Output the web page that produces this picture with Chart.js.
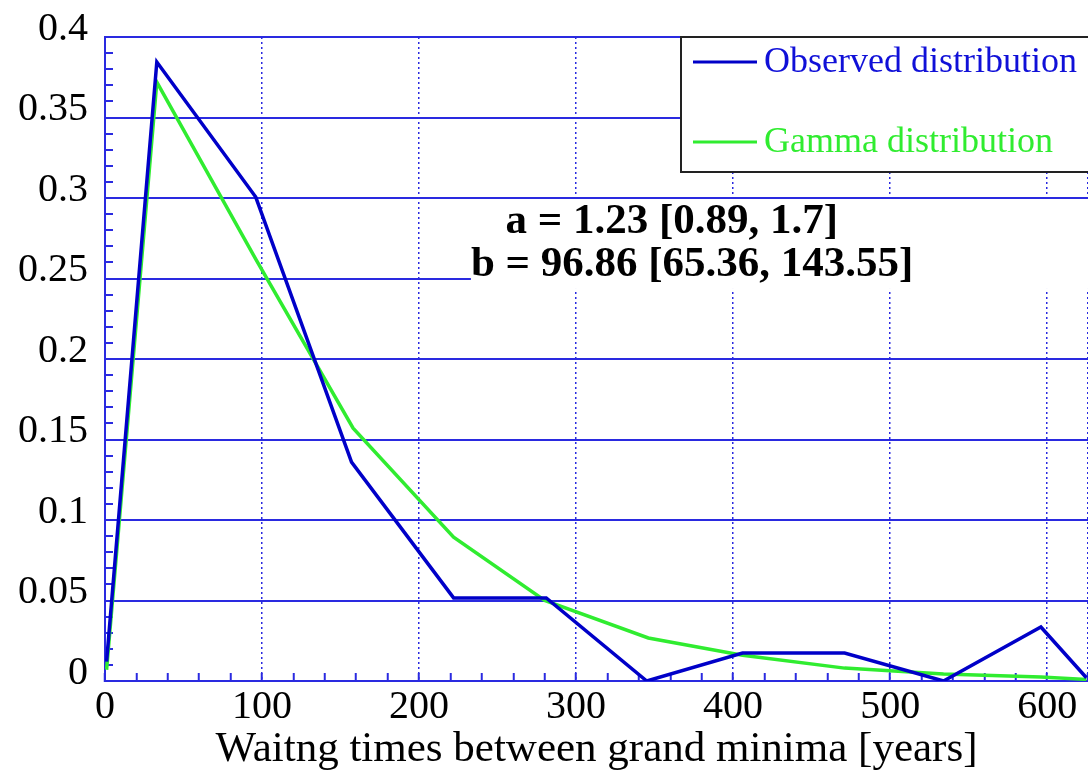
<!DOCTYPE html>
<html>
<head>
<meta charset="utf-8">
<script src="https://cdn.jsdelivr.net/npm/chart.js@4.4.0/dist/chart.umd.min.js"></script>
<style>
html, body { margin: 0; padding: 0; background: #fff; }
#chart { display: block; }
</style>
</head>
<body>
<canvas id="chart" width="1088" height="776"></canvas>
<script>
// values
const seriesNames = ['Observed distribution', 'Gamma distribution'];
const observedX = [1, 33, 96, 157, 222, 281, 345, 406, 471, 534, 596, 625];
const observedY = [0.012, 0.3845, 0.3006, 0.136, 0.0516, 0.0516, 0, 0.0174, 0.0174, 0, 0.0335, 0.002];
const gammaX = [1, 33, 96, 158, 222, 280, 346, 406, 471, 534, 596, 625];
const gammaY = [0.007, 0.372, 0.262, 0.157, 0.0894, 0.050, 0.0267, 0.016, 0.008, 0.0043, 0.0025, 0.001];
const fitLines = ['a = 1.23 [0.89, 1.7]', 'b = 96.86 [65.36, 143.55]'];
const xTitle = 'Waitng times between grand minima [years]';

const X_MAX = 626;
const gridBlue = '#2a2ae0';
const obsBlue = '#0000c8';
const gammaGreen = '#30ec30';

Chart.defaults.font.family = "'Liberation Serif', 'Times New Roman', serif";
Chart.defaults.color = '#000';

function pts(xs, ys) {
    return xs.map((x, i) => ({ x: x, y: ys[i] }));
}

const isMajorY = v => Math.abs(v * 20 - Math.round(v * 20)) < 1e-6;
const isMajorX = v => v % 100 === 0;

// white box with the fit parameters
const fitBox = {
    id: 'fitBox',
    beforeDatasetsDraw(chart) {
        const { ctx, scales: { x, y } } = chart;
        const left = x.getPixelForValue(233);
        const top = y.getPixelForValue(0.2985);
        const bottom = y.getPixelForValue(0.2435);
        ctx.save();
        ctx.fillStyle = '#fff';
        ctx.fillRect(left, top, chart.width - left, bottom - top);
        ctx.fillStyle = '#000';
        ctx.font = "bold 43px 'Liberation Serif', serif";
        ctx.textBaseline = 'alphabetic';
        ctx.fillText(fitLines[0], x.getPixelForValue(255), y.getPixelForValue(0.2785));
        ctx.fillText(fitLines[1], x.getPixelForValue(233), y.getPixelForValue(0.2515));
        ctx.restore();
    }
};

// boxed legend in the upper right corner
const boxLegend = {
    id: 'boxLegend',
    afterDraw(chart) {
        const { ctx, chartArea } = chart;
        const left = 681, top = chartArea.top, bottom = 172;
        ctx.save();
        ctx.fillStyle = '#fff';
        ctx.fillRect(left, top, chart.width - left + 5, bottom - top);
        ctx.strokeStyle = '#222';
        ctx.lineWidth = 2;
        ctx.strokeRect(left, top, chart.width - left + 10, bottom - top);
        ctx.font = "36px 'Liberation Serif', serif";
        ctx.textBaseline = 'middle';
        chart.data.datasets.forEach((ds, i) => {
            const yy = 62 + i * 80;
            ctx.strokeStyle = ds.borderColor;
            ctx.lineWidth = 3;
            ctx.beginPath();
            ctx.moveTo(693, yy);
            ctx.lineTo(757, yy);
            ctx.stroke();
            ctx.fillStyle = ds.borderColor === obsBlue ? '#1010d8' : ds.borderColor;
            ctx.fillText(ds.label, 764, yy + 1);
        });
        ctx.restore();
    }
};

new Chart(document.getElementById('chart'), {
    type: 'scatter',
    data: {
        datasets: [{
            label: seriesNames[0],
            data: pts(observedX, observedY),
            showLine: true,
            borderColor: obsBlue,
            borderWidth: 3.5,
            pointRadius: 0,
            tension: 0
        }, {
            label: seriesNames[1],
            data: pts(gammaX, gammaY),
            showLine: true,
            borderColor: gammaGreen,
            borderWidth: 3.5,
            pointRadius: 0,
            tension: 0
        }]
    },
    options: {
        responsive: false,
        animation: false,
        devicePixelRatio: 1,
        layout: { padding: { top: 37, right: 0, left: 0, bottom: 0 } },
        plugins: {
            legend: { display: false },
            tooltip: { enabled: false }
        },
        scales: {
            x: {
                type: 'linear',
                min: 0,
                max: X_MAX,
                afterFit(scale) {
                    scale.height = 95;
                    scale.paddingLeft = 0;
                    scale.paddingRight = 0;
                },
                ticks: {
                    stepSize: 20,
                    padding: 10,
                    maxRotation: 0,
                    autoSkip: false,
                    font: { size: 40 },
                    callback: v => isMajorX(v) ? String(v) : ''
                },
                grid: {
                    color: ctx => (isMajorX(ctx.tick.value) || ctx.tick.value === X_MAX) ? gridBlue : 'transparent',
                    lineWidth: 1.5,
                    tickColor: gridBlue,
                    tickWidth: 2,
                    tickBorderDash: [],
                    tickLength: -8
                },
                border: { display: true, color: gridBlue, width: 2, dash: [2, 3] },
                title: {
                    display: true,
                    text: xTitle,
                    font: { size: 43 },
                    padding: { top: 0, bottom: 0 }
                }
            },
            y: {
                min: 0,
                max: 0.4,
                afterFit(scale) {
                    scale.width = 105;
                    scale.paddingTop = 0;
                    scale.paddingBottom = 0;
                },
                ticks: {
                    stepSize: 0.01,
                    padding: 25,
                    labelOffset: -8,
                    autoSkip: false,
                    font: { size: 40 },
                    callback: v => isMajorY(v) ? String(Math.round(v * 100) / 100) : ''
                },
                grid: {
                    color: ctx => isMajorY(ctx.tick.value) ? gridBlue : 'transparent',
                    lineWidth: 2,
                    tickColor: gridBlue,
                    tickWidth: 2,
                    tickLength: -8
                },
                border: { display: true, color: gridBlue, width: 2 }
            }
        }
    },
    plugins: [fitBox, boxLegend]
});
</script>
</body>
</html>
